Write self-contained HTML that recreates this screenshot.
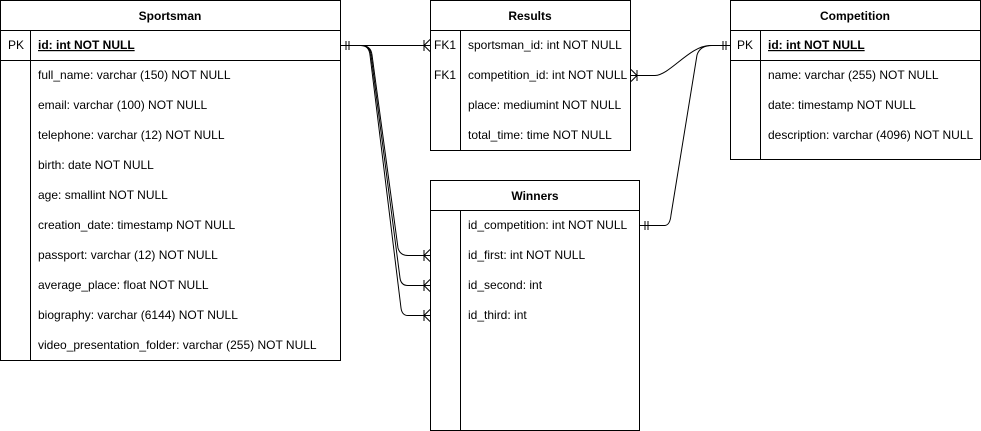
<!DOCTYPE html>
<html><head><style>
body{margin:0;background:#fff}
svg{display:block;font-family:"Liberation Sans",Helvetica,sans-serif;font-size:12px}
</style></head><body>
<svg width="981" height="431" viewBox="0 0 981 431" xmlns="http://www.w3.org/2000/svg">
<g fill="none" stroke="#000" stroke-width="1">
<!-- Sportsman -->
<rect x="0.5" y="0.5" width="340" height="360"/>
<line x1="0" y1="30.5" x2="341" y2="30.5"/>
<line x1="0" y1="60.5" x2="341" y2="60.5"/>
<line x1="30.5" y1="30" x2="30.5" y2="360"/>
<!-- Results -->
<rect x="430.5" y="0.5" width="200" height="150"/>
<line x1="430" y1="30.5" x2="631" y2="30.5"/>
<line x1="460.5" y1="30" x2="460.5" y2="150"/>
<!-- Competition -->
<rect x="730.5" y="0.5" width="250" height="159"/>
<line x1="730" y1="30.5" x2="981" y2="30.5"/>
<line x1="730" y1="60.5" x2="981" y2="60.5"/>
<line x1="760.5" y1="30" x2="760.5" y2="160"/>
<!-- Winners -->
<rect x="430.5" y="180.5" width="209" height="250"/>
<line x1="430" y1="210.5" x2="640" y2="210.5"/>
<line x1="460.5" y1="210" x2="460.5" y2="431"/>
<!-- connectors -->
<path d="M341 45.5 H430"/>
<path d="M346 41v9M349 41v9"/>
<path d="M424 40v11M430 39.5L424 45.5L430 51.5"/>
<path d="M360 45.5 Q371 45 372 55 L398 248 Q400 255.5 408 255.5 H430"/>
<path d="M360 45.5 Q370 45 371 55 L400 278 Q401 285.5 408 285.5 H430"/>
<path d="M360 45.5 Q369 45 370 55 L401 308 Q402 315.5 408 315.5 H430"/>
<path d="M424 250v11M430 249.5L424 255.5L430 261.5"/>
<path d="M424 280v11M430 279.5L424 285.5L430 291.5"/>
<path d="M424 310v11M430 309.5L424 315.5L430 321.5"/>
<!-- results to competition -->
<path d="M631 75.5 H655 C670 75 690 45.5 710 45.5 H730"/>
<path d="M637 70v11M631 69.5L637 75.5L631 81.5"/>
<path d="M723 41v9M726 41v9"/>
<!-- winners to competition -->
<path d="M640 225.5 H665 Q670 225 671 215 L697 55 Q700 45.5 712 45.5"/>
<path d="M645 221v9M648 221v9"/>
</g>
<g fill="#000">
<text x="170" y="20" text-anchor="middle" font-weight="bold">Sportsman</text>
<text x="8" y="49">PK</text>
<text x="38" y="49" font-weight="bold" text-decoration="underline">id: int NOT NULL</text>
<text x="38" y="79">full_name: varchar (150) NOT NULL</text>
<text x="38" y="109">email: varchar (100) NOT NULL</text>
<text x="38" y="139">telephone: varchar (12) NOT NULL</text>
<text x="38" y="169">birth: date NOT NULL</text>
<text x="38" y="199">age: smallint NOT NULL</text>
<text x="38" y="229">creation_date: timestamp NOT NULL</text>
<text x="38" y="259">passport: varchar (12) NOT NULL</text>
<text x="38" y="289">average_place: float NOT NULL</text>
<text x="38" y="319">biography: varchar (6144) NOT NULL</text>
<text x="38" y="349">video_presentation_folder: varchar (255) NOT NULL</text>

<text x="530" y="20" text-anchor="middle" font-weight="bold">Results</text>
<text x="434" y="49">FK1</text>
<text x="434" y="79">FK1</text>
<text x="468" y="49">sportsman_id: int NOT NULL</text>
<text x="468" y="79">competition_id: int NOT NULL</text>
<text x="468" y="109">place: mediumint NOT NULL</text>
<text x="468" y="139">total_time: time NOT NULL</text>

<text x="855" y="20" text-anchor="middle" font-weight="bold">Competition</text>
<text x="737" y="49">PK</text>
<text x="768" y="49" font-weight="bold" text-decoration="underline">id: int NOT NULL</text>
<text x="768" y="79">name: varchar (255) NOT NULL</text>
<text x="768" y="109">date: timestamp NOT NULL</text>
<text x="768" y="139">description: varchar (4096) NOT NULL</text>

<text x="535" y="200" text-anchor="middle" font-weight="bold">Winners</text>
<text x="468" y="229">id_competition: int NOT NULL</text>
<text x="468" y="259">id_first: int NOT NULL</text>
<text x="468" y="289">id_second: int</text>
<text x="468" y="319">id_third: int</text>
</g>
</svg>
</body></html>
